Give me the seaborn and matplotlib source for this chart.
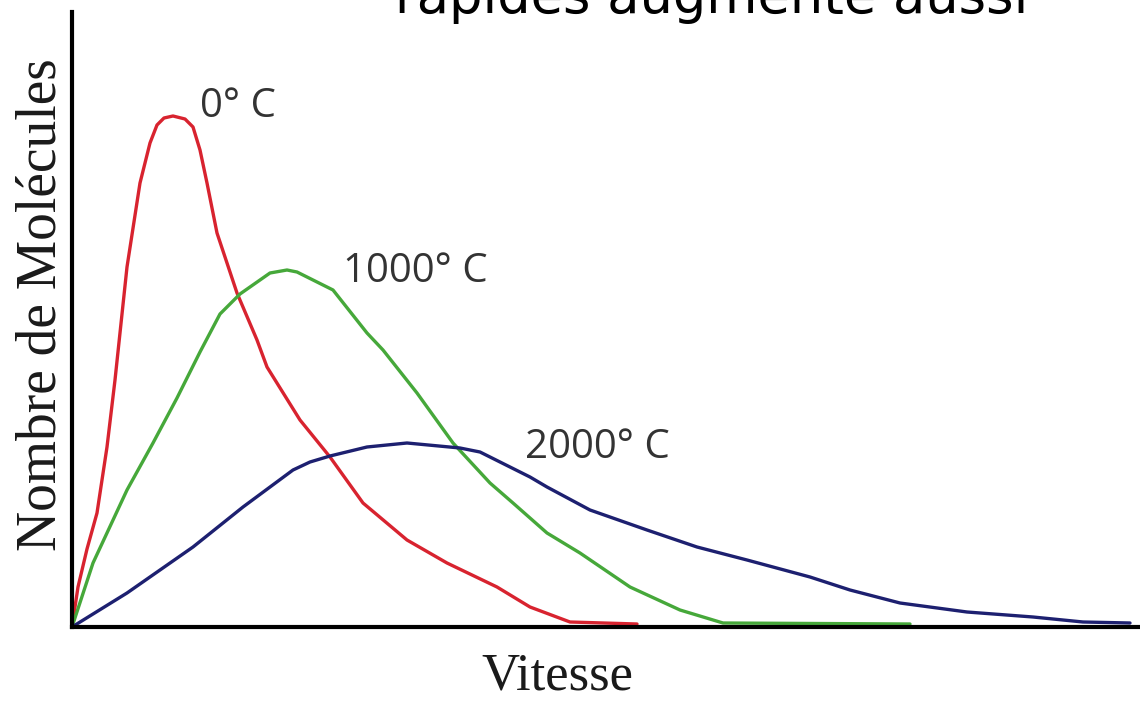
import numpy as np
import pandas as pd
import matplotlib
matplotlib.use("Agg")
import matplotlib.pyplot as plt
import seaborn as sns

# Speed (arbitrary units) and number of molecules (arbitrary units)
speed_0 = [0, 6, 15, 25, 35, 43, 55, 68, 78, 85, 92, 101, 113, 121, 128, 135, 145, 165, 185,
           195, 228, 258, 291, 335, 375, 425, 458, 498, 565]
count_0 = [0, 40, 78, 114, 180, 247, 360, 444, 484, 502, 509, 511, 508, 500, 477, 444, 394, 334, 287,
           260, 207, 170, 124, 87, 64, 40, 20, 5, 3]

speed_1000 = [0, 21, 55, 81, 105, 128, 148, 168, 198, 215, 225, 261, 295, 311, 345, 381, 418,
              441, 475, 508, 558, 608, 651, 838]
count_1000 = [0, 64, 137, 184, 229, 275, 313, 333, 354, 357, 355, 337, 294, 277, 234, 184, 144,
              124, 94, 74, 40, 17, 4, 3]

speed_2000 = [0, 55, 121, 171, 221, 238, 258, 295, 335, 388, 408, 428, 458, 475, 518, 575, 625, 675,
              738, 778, 828, 895, 961, 1011, 1058]
count_2000 = [0, 34, 80, 120, 157, 165, 171, 180, 184, 179, 175, 165, 150, 140, 117, 97, 80, 67,
              50, 37, 24, 15, 10, 5, 4]

series_names = ["0° C", "1000° C", "2000° C"]
series_colors = ["#d8232f", "#46a83a", "#1d2070"]
title_text = "rapides augmente aussi"
x_label = "Vitesse"
y_label = "Nombre de Molécules"

df = pd.concat([
    pd.DataFrame({"Vitesse": speed_0, "Nombre": count_0, "T": series_names[0]}),
    pd.DataFrame({"Vitesse": speed_1000, "Nombre": count_1000, "T": series_names[1]}),
    pd.DataFrame({"Vitesse": speed_2000, "Nombre": count_2000, "T": series_names[2]}),
], ignore_index=True)

sns.set_theme(style="white")
plt.rcParams["font.family"] = ["DejaVu Sans"]

fig = plt.figure(figsize=(11.4, 7.02), dpi=100)
ax = fig.add_axes([72 / 1140, 75 / 702, 1068 / 1140, 615 / 702])

sns.lineplot(data=df, x="Vitesse", y="Nombre", hue="T", palette=series_colors,
             estimator=None, sort=False, linewidth=2.4, legend=False, ax=ax)
for line in ax.lines:
    line.set_solid_joinstyle("round")
    line.set_solid_capstyle("round")

ax.set_xlim(0, 1068)
ax.set_ylim(0, 615)
ax.set_xticks([])
ax.set_yticks([])
for side in ["top", "right"]:
    ax.spines[side].set_visible(False)
for side in ["left", "bottom"]:
    ax.spines[side].set_color("black")
    ax.spines[side].set_linewidth(3)
    ax.spines[side].set_zorder(5)

ax.set_xlabel(x_label, fontsize=38, family="Liberation Serif", color="#1a1a1a")
ax.set_ylabel(y_label, fontsize=40, family="Liberation Serif", color="#1a1a1a")
ax.xaxis.set_label_coords((557 - 72) / 1068, (627 - 653) / 615)
ax.yaxis.set_label_coords((68 - 72) / 1068, (627 - 305) / 615)

label_pos = [(128, 510), (271, 345), (453, 169)]
for name, (lx, ly) in zip(series_names, label_pos):
    ax.text(lx, ly, name, fontsize=29, family="Open Sans", color="#333333",
            ha="left", va="baseline")

fig.text(712 / 1140, (702 - 13) / 702, title_text, fontsize=38, ha="center",
         va="baseline", color="black")

fig.savefig("out.png", dpi=100, facecolor="white")
